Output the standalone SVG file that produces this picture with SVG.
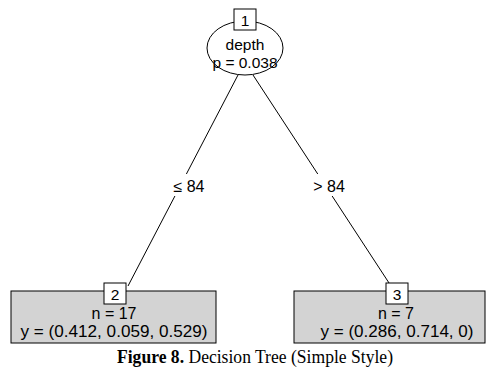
<svg xmlns="http://www.w3.org/2000/svg" width="488" height="368" viewBox="0 0 488 368">
<style>
.t{font-family:"Liberation Sans",Arial,sans-serif;font-size:15.5px;fill:#000;text-anchor:middle}
.lt{font-family:"Liberation Sans",Arial,sans-serif;font-size:16px;fill:#000;text-anchor:middle}
.ln{stroke:#000;stroke-width:1;fill:none}
.leaf{fill:#d3d3d3;stroke:#000;stroke-width:1}
.idx{fill:#fff;stroke:#000;stroke-width:1}
.cap{font-family:"Liberation Serif","DejaVu Serif",serif;font-size:19px;fill:#000}
</style>
<rect width="488" height="368" fill="#fff"/>
<text class="cap" x="117" y="363" textLength="276" lengthAdjust="spacingAndGlyphs"><tspan font-weight="bold">Figure 8.</tspan> Decision Tree (Simple Style)</text>
<g id="connectors">
<line class="ln" x1="238" y1="75" x2="128" y2="286"/>
<line class="ln" x1="253" y1="75" x2="391" y2="286"/>
<rect x="170" y="174" width="39" height="22" fill="#fff"/>
<rect x="309" y="174" width="41" height="22" fill="#fff"/>
<text class="lt" x="189" y="192">≤ 84</text>
<text class="lt" x="329" y="192">&gt; 84</text>
</g>
<g id="node1">
<ellipse cx="245" cy="48" rx="38" ry="27" fill="#fff" stroke="#000"/>
<rect class="idx" x="234" y="9" width="22" height="21"/>
<text class="t" x="245" y="26">1</text>
<text class="t" x="245" y="50">depth</text>
<text class="t" x="245" y="68">p = 0.038</text>
</g>
<g id="node2">
<rect class="leaf" x="11" y="291" width="205" height="52"/>
<rect class="idx" x="104" y="283" width="22" height="21"/>
<text class="t" x="115" y="300">2</text>
<text class="lt" x="114" y="319">n = 17</text>
<text class="lt" x="114" y="337" textLength="187" lengthAdjust="spacingAndGlyphs">y = (0.412, 0.059, 0.529)</text>
</g>
<g id="node3">
<rect class="leaf" x="294" y="291" width="191" height="52"/>
<rect class="idx" x="386" y="283" width="22" height="21"/>
<text class="t" x="397" y="300">3</text>
<text class="lt" x="396" y="319">n = 7</text>
<text class="lt" x="397" y="337" textLength="153" lengthAdjust="spacingAndGlyphs">y = (0.286, 0.714, 0)</text>
</g>
</svg>
